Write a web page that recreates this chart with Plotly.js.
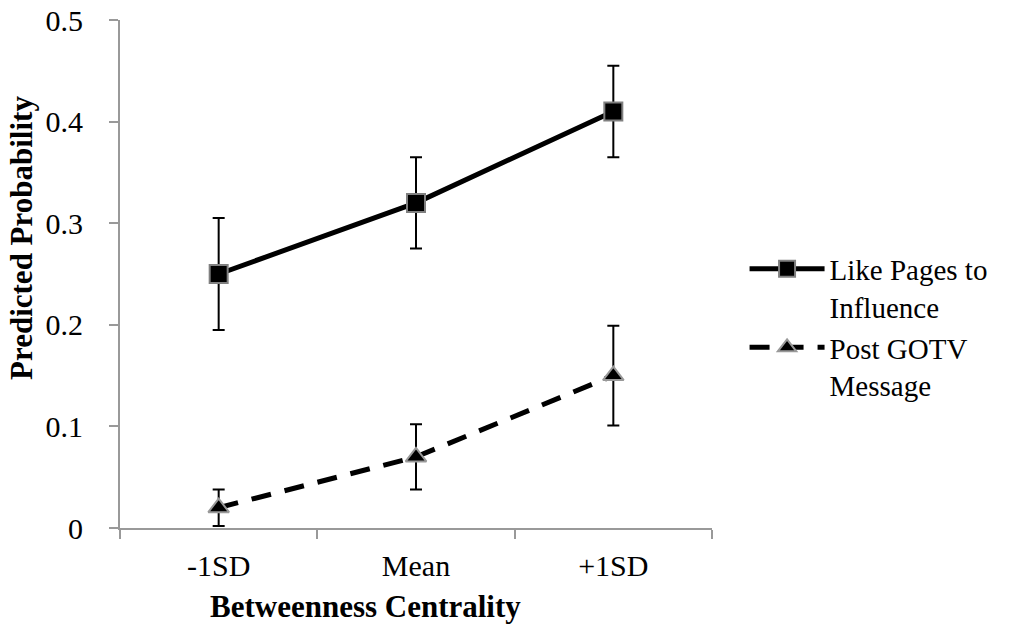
<!DOCTYPE html>
<html>
<head>
<meta charset="utf-8">
<script src="https://cdn.plot.ly/plotly-3.0.1.min.js"></script>
<style>html,body{margin:0;padding:0;background:#fff;}#chart{width:1010px;height:628px;}</style>
</head>
<body>
<div id="chart"></div>
<script>
const categories = ["-1SD", "Mean", "+1SD"];
const likeValues = [0.25, 0.32, 0.41];
const likeErrors = [0.055, 0.045, 0.045];
const gotvValues = [0.02, 0.07, 0.15];
const gotvErrors = [0.018, 0.032, 0.049];
const seriesNames = ["Like Pages to<br>Influence", "Post GOTV<br>Message"];
const yTicks = [0, 0.1, 0.2, 0.3, 0.4, 0.5];
const yTickLabels = ["0", "0.1", "0.2", "0.3", "0.4", "0.5"];
const xTitle = "Betweenness Centrality";
const yTitle = "Predicted Probability";

const font = "'Liberation Serif', 'Times New Roman', serif";

const traces = [
  {
    x: categories, y: likeValues, name: seriesNames[0], type: "scatter", mode: "lines+markers",
    line: {color: "#000", width: 5},
    marker: {symbol: "square", size: 18, color: "#000", line: {color: "#808080", width: 2}},
    error_y: {type: "data", array: likeErrors, visible: true, color: "#000", thickness: 2, width: 6}
  },
  {
    x: categories, y: gotvValues, name: seriesNames[1], type: "scatter", mode: "lines+markers",
    line: {color: "#000", width: 5, dash: "20px,14px"},
    marker: {symbol: "triangle-up", size: 18, color: "#000", line: {color: "#999", width: 2}},
    error_y: {type: "data", array: gotvErrors, visible: true, color: "#000", thickness: 2, width: 6}
  }
];

const layout = {
  width: 1010, height: 628,
  margin: {l: 120, r: 298, t: 20, b: 100},
  paper_bgcolor: "#fff", plot_bgcolor: "#fff",
  font: {family: font, size: 30, color: "#000"},
  showlegend: true,
  legend: {
    x: 1.055, y: 0.56, xanchor: "left", yanchor: "top", valign: "top",
    font: {family: font, size: 29, color: "#000"},
    itemwidth: 75, bgcolor: "rgba(0,0,0,0)"
  },
  xaxis: {
    type: "category", range: [-0.5, 2.5],
    showline: true, linecolor: "#999", linewidth: 2,
    ticks: "outside", tickson: "boundaries", ticklen: 9, tickcolor: "#999", tickwidth: 2,
    showgrid: false, zeroline: false, ticklabelstandoff: 10,
    tickfont: {family: font, size: 30, color: "#000"}
  },
  yaxis: {
    range: [0, 0.5], tickvals: yTicks, ticktext: yTickLabels,
    showline: true, linecolor: "#999", linewidth: 2,
    ticks: "outside", ticklen: 9, tickcolor: "#999", tickwidth: 2,
    showgrid: false, zeroline: false, ticklabelstandoff: 20,
    tickfont: {family: font, size: 30, color: "#000"}
  },
  annotations: [
    {text: "<b>" + xTitle + "</b>", xref: "paper", yref: "paper", x: 0.414, y: -0.155,
     xanchor: "center", yanchor: "middle", showarrow: false,
     font: {family: font, size: 31, color: "#000"}},
    {text: "<b>" + yTitle + "</b>", xref: "paper", yref: "paper", x: -0.1655, y: 0.571,
     xanchor: "center", yanchor: "middle", showarrow: false, textangle: -90,
     font: {family: font, size: 31, color: "#000"}}
  ]
};

Plotly.newPlot("chart", traces, layout, {displayModeBar: false, staticPlot: true});
</script>
</body>
</html>
